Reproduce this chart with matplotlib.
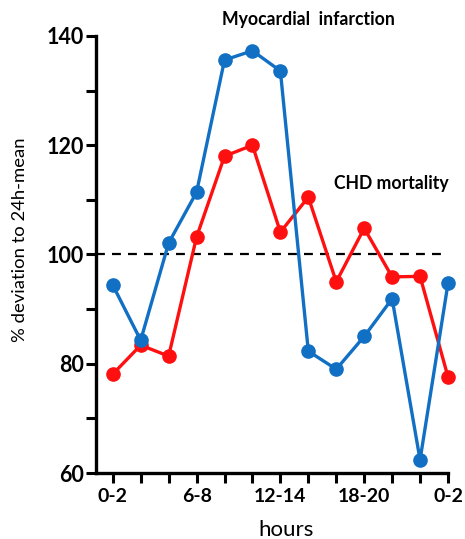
import matplotlib
matplotlib.use("Agg")
import matplotlib.pyplot as plt
from matplotlib.ticker import MultipleLocator

plt.rcParams['font.family'] = ['Lato', 'DejaVu Sans']

x_labels = ["0-2", "", "", "6-8", "", "", "12-14", "", "", "18-20", "", "", "0-2"]
mi_values = [94.4, 84.3, 102.1, 111.4, 135.6, 137.3, 133.6, 82.3, 79.0, 85.0, 91.9, 62.4, 94.7]
chd_values = [78.1, 83.4, 81.4, 103.2, 118.0, 120.0, 104.1, 110.5, 95.0, 104.8, 95.9, 96.0, 77.6]
y_ticks = [60, 80, 100, 120, 140]

fig = plt.figure(figsize=(4.65, 5.39), dpi=100)
ax = fig.add_axes([96/465, 66/539, 352/465, 437/539])

xs = list(range(len(x_labels)))
ax.axhline(100, color='black', lw=1.6, ls=(0, (4, 3.2)), zorder=1)
ax.plot(xs, mi_values, color='#1170C4', lw=2.4, marker='o', ms=9.5, zorder=3, clip_on=False)
ax.plot(xs, chd_values, color='#FF1010', lw=2.4, marker='o', ms=9.5, zorder=2, clip_on=False)

ax.set_xlim(-0.6, 12)
ax.set_ylim(60, 140)
ax.set_xticks(xs)
ax.set_xticklabels(x_labels, fontsize=14, fontweight='bold')
ax.set_yticks(y_ticks)
ax.set_yticklabels([str(v) for v in y_ticks], fontsize=15.5, fontweight='bold')
ax.yaxis.set_minor_locator(MultipleLocator(10))

for s in ['top', 'right']:
    ax.spines[s].set_visible(False)
for s in ['left', 'bottom']:
    ax.spines[s].set_linewidth(2.4)
ax.tick_params(axis='both', which='both', direction='out', width=2.2, length=7, color='black')
ax.tick_params(axis='y', which='major', pad=2)
ax.tick_params(axis='x', which='major', pad=4)

fig.text(20/465, 1 - 240/539, "% deviation to 24h-mean", rotation=90, ha='center', va='center', fontsize=13.3)
fig.text(286/465, 1 - 530/539, "hours", ha='center', va='center', fontsize=16)

fig.text(308/465, 1 - 20/539, "Myocardial  infarction", ha='center', va='center', fontsize=12.7, fontweight='bold')
fig.text(334/465, 1 - 183/539, "CHD mortality", ha='left', va='center', fontsize=12.7, fontweight='bold')

fig.savefig("out.png", dpi=100)
